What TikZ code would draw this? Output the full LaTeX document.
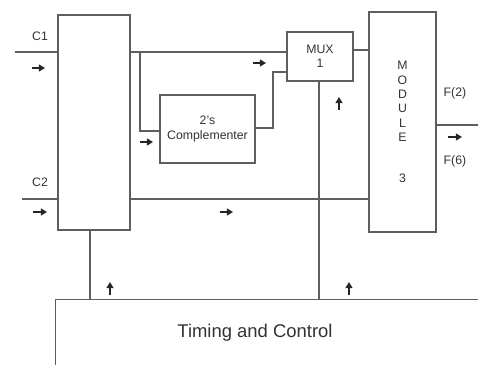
\documentclass[tikz,border=0pt]{standalone}
\usepackage{fontspec}
\setmainfont{Liberation Sans}
\usetikzlibrary{arrows.meta,positioning,calc}
\definecolor{cLine}{HTML}{5E5E5E}
\definecolor{cText}{HTML}{333333}
\tikzset{
  blk/.style={draw=cLine, line width=0.7pt, fill=white, inner sep=0pt, align=center,
    text=cText, font=\fontsize{7}{8.25}\selectfont},
  wire/.style={draw=cLine, line width=0.7pt},
  sig/.style={-{Triangle[length=3.5pt,width=4pt]}, line width=0.8pt, black!85},
  lbl/.style={text=cText, font=\fontsize{7}{8.25}\selectfont, inner sep=1pt},
}
\begin{document}
\begin{tikzpicture}[x=0.02cm, y=-0.02cm]
    \useasboundingbox (0,0) rectangle (478,365);
    % blocks
    \node[blk, minimum width=1.44cm, minimum height=4.3cm] (ctrl) at (94,122.5) {};
    \node[blk, minimum width=1.9cm, minimum height=1.36cm] (comp) at (207.5,129) {2's\\Complementer};
    \node[blk, minimum width=1.32cm, minimum height=0.98cm] (mux) at (320,56.5) {MUX\\1};
    \node[blk, minimum width=1.34cm, minimum height=4.4cm] (module) at (402.5,122)
      {M\\O\\D\\U\\L\\E\\[15pt]3};
    \node[blk, minimum width=8.7cm, minimum height=1.62cm, anchor=north west] (timing) at (55,299) {};
    \node[lbl, font=\fontsize{10.5}{12}\selectfont] (tlabel) at (255,333) {Timing and Control};
    % inputs and output
    \coordinate (c1in) at (15,52);
    \coordinate (c2in) at (22,199);
    \coordinate (fout) at (480,125);
    \draw[wire] (c1in) -- (c1in -| ctrl.west);
    \draw[wire] (c2in) -- (c2in -| ctrl.west);
    \draw[wire] (module.east |- fout) -- (fout);
    % data paths
    \coordinate (split) at (140,52);
    \coordinate (bend) at (273,128);
    \draw[wire] (ctrl.east |- split) -- (mux.west |- split);
    \draw[wire] (split) |- (comp.west |- 0,131);
    \draw[wire] (comp.east |- bend) -- (bend) |- (mux.west |- 0,72);
    \draw[wire] (mux.east |- 0,50) -- (module.west |- 0,50);
    \draw[wire] (ctrl.east |- c2in) -- (module.west |- c2in);
    % control lines
    \draw[wire] (mux.south -| 319,0) -- (timing.north -| 319,0);
    \draw[wire] (ctrl.south -| 90,0) -- (timing.north -| 90,0);
    % labels
    \node[lbl] (c1) at (40,36) {C1};
    \node[lbl] (c2) at (40,182) {C2};
    \node[lbl] (f2) at (455,93) {F(2)};
    \node[lbl] (f6) at (455,161) {F(6)};
    % direction marks
    \draw[sig] (32,68) -- (45,68);
    \draw[sig] (33,212) -- (47,212);
    \draw[sig] (140,142) -- (153,142);
    \draw[sig] (253,63) -- (266,63);
    \draw[sig] (220,212) -- (233,212);
    \draw[sig] (448,137) -- (462,137);
    \draw[sig] (339,110) -- (339,97);
    \draw[sig] (110,295) -- (110,282);
    \draw[sig] (349,295) -- (349,282);
\end{tikzpicture}
\end{document}
